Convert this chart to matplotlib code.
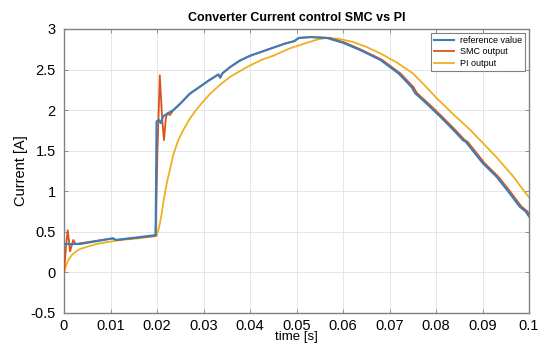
import matplotlib
matplotlib.use("Agg")
import matplotlib.pyplot as plt
import numpy as np

# reference value (blue)
t_ref = [0, 0.0035, 0.0105, 0.0112, 0.0197, 0.0199, 0.0204, 0.0208, 0.0213, 0.022,
         0.0235, 0.025, 0.027, 0.029, 0.031, 0.0332, 0.0336, 0.034, 0.0357, 0.0378,
         0.04, 0.0425, 0.045, 0.0475, 0.0495, 0.0505, 0.053, 0.0565, 0.06, 0.0637,
         0.068, 0.072, 0.0748, 0.0755, 0.078, 0.0809, 0.0835, 0.0858, 0.0864, 0.09,
         0.093, 0.0955, 0.098, 0.0993, 0.1]
i_ref = [0.35, 0.35, 0.42, 0.40, 0.46, 1.86, 1.88, 1.84, 1.92, 1.95,
         2.0, 2.08, 2.2, 2.28, 2.36, 2.44, 2.40, 2.45, 2.53, 2.61,
         2.67, 2.72, 2.77, 2.82, 2.85, 2.89, 2.90, 2.89, 2.83, 2.74,
         2.62, 2.45, 2.28, 2.21, 2.08, 1.92, 1.77, 1.63, 1.61, 1.35,
         1.18, 1.0, 0.81, 0.75, 0.69]

# SMC output (red)
t_smc = [0, 0.0004, 0.0008, 0.0013, 0.002, 0.0025, 0.0035, 0.0105, 0.0112, 0.0197,
         0.0201, 0.0206, 0.0211, 0.0215, 0.0219, 0.0222, 0.0228, 0.0235, 0.025, 0.027,
         0.029, 0.031, 0.0332, 0.0336, 0.034, 0.0357, 0.0378, 0.04, 0.0425, 0.045,
         0.0475, 0.0495, 0.0505, 0.053, 0.0572, 0.0605, 0.0641, 0.0684, 0.0724, 0.0752,
         0.0759, 0.0784, 0.0813, 0.0839, 0.0862, 0.0868, 0.0904, 0.0934, 0.0959, 0.0984,
         0.0997, 0.1]
i_smc = [0.0, 0.30, 0.52, 0.26, 0.40, 0.35, 0.36, 0.42, 0.40, 0.45,
         1.5, 2.43, 1.9, 1.63, 1.9, 1.96, 1.94, 2.0, 2.08, 2.2,
         2.28, 2.36, 2.44, 2.40, 2.45, 2.53, 2.61, 2.67, 2.72, 2.77,
         2.82, 2.85, 2.89, 2.90, 2.89, 2.83, 2.74, 2.62, 2.45, 2.28,
         2.21, 2.08, 1.92, 1.77, 1.63, 1.61, 1.35, 1.18, 1.0, 0.81,
         0.75, 0.71]

# PI output (yellow)
t_pi = [0, 0.0004, 0.0009, 0.0016, 0.0024, 0.0035, 0.0052, 0.007, 0.0088, 0.0124,
        0.016, 0.0199, 0.0203, 0.0206, 0.021, 0.0214, 0.0218, 0.0221, 0.0228, 0.0235,
        0.0245, 0.0257, 0.027, 0.0285, 0.030, 0.0314, 0.0335, 0.0357, 0.0378, 0.04,
        0.0425, 0.045, 0.0485, 0.0522, 0.0545, 0.0565, 0.059, 0.0622, 0.065, 0.068,
        0.0715, 0.0751, 0.0775, 0.0801, 0.0835, 0.0873, 0.09, 0.093, 0.0965, 0.0995,
        0.1]
i_pi = [0.0, 0.08, 0.15, 0.21, 0.25, 0.29, 0.32, 0.35, 0.37, 0.40,
        0.42, 0.45, 0.52, 0.60, 0.72, 0.88, 1.0, 1.1, 1.27, 1.45,
        1.62, 1.76, 1.89, 2.01, 2.11, 2.2, 2.31, 2.41, 2.48, 2.55,
        2.62, 2.67, 2.76, 2.83, 2.87, 2.89, 2.88, 2.84, 2.78, 2.70,
        2.59, 2.45, 2.31, 2.15, 1.96, 1.76, 1.6, 1.42, 1.19, 0.96,
        0.93]

xticks = [0, 0.01, 0.02, 0.03, 0.04, 0.05, 0.06, 0.07, 0.08, 0.09, 0.1]
xticklabels = ['0', '0.01', '0.02', '0.03', '0.04', '0.05', '0.06', '0.07', '0.08', '0.09', '0.1']
yticks = [-0.5, 0, 0.5, 1, 1.5, 2, 2.5, 3]
yticklabels = ['-0.5', '0', '0.5', '1', '1.5', '2', '2.5', '3']

plt.rcParams['font.family'] = ['Liberation Sans', 'DejaVu Sans']

fig = plt.figure(figsize=(5.39, 3.46), dpi=100)
ax = fig.add_axes([64 / 539, 1 - 313 / 346, (529 - 64) / 539, (313 - 29) / 346])

ax.plot(t_smc, i_smc, color='#D95319', lw=1.3, label='SMC output', zorder=3)
ax.plot(t_pi, i_pi, color='#EDB120', lw=1.3, label='PI output', zorder=2)
ax.plot(t_ref, i_ref, color='#3A7DB8', lw=1.5, label='reference value', zorder=4)

ax.set_xlim(0, 0.1)
ax.set_ylim(-0.5, 3)
ax.set_xticks(xticks)
ax.set_xticklabels(xticklabels)
ax.set_yticks(yticks)
ax.set_yticklabels(yticklabels)
ax.tick_params(direction='in', length=3, width=0.6, color='#808080', labelsize=10.5,
               top=True, right=True)
ax.tick_params(axis='x', pad=4)
ax.tick_params(axis='y', pad=6)
ax.grid(True, color='#e6e6e6', lw=0.7)
ax.set_axisbelow(True)
for s in ax.spines.values():
    s.set_color('#808080')
    s.set_linewidth(1.0)

ax.set_title('Converter Current control SMC vs PI', fontsize=9, fontweight='bold', pad=6)
ax.set_xlabel('time [s]', fontsize=9.5, labelpad=-1)
ax.set_ylabel('Current [A]', fontsize=10.5, labelpad=2)

h, l = ax.get_legend_handles_labels()
order = [2, 0, 1]
leg = ax.legend([h[i] for i in order], [l[i] for i in order], loc='upper right',
                fontsize=6.5, fancybox=False, framealpha=1, edgecolor='#808080',
                handlelength=2.2, labelspacing=0.25, borderaxespad=0.45,
                borderpad=0.35, handletextpad=0.6)
leg.get_frame().set_linewidth(0.8)

fig.savefig('out.png', dpi=100)
